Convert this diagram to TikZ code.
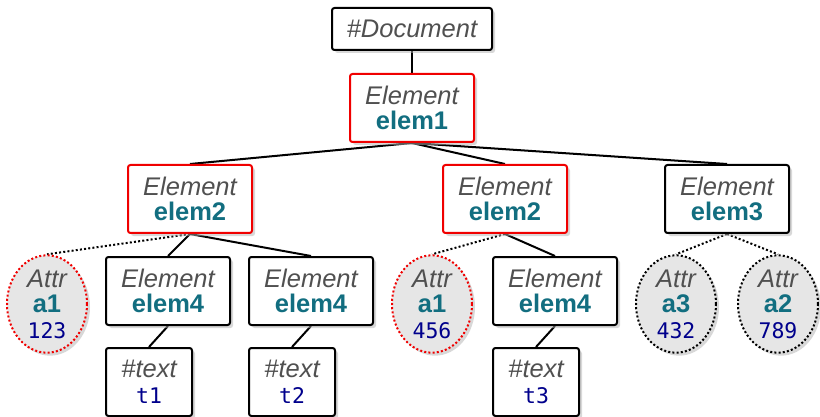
\documentclass[tikz,border=0pt]{standalone}
\usepackage{fontspec}
\setmainfont{Liberation Sans}
\newfontfamily\valfont{DejaVu Sans Mono}
\usetikzlibrary{shapes.geometric,shadows,backgrounds}
\definecolor{kindgray}{RGB}{80,80,80}
\definecolor{nameteal}{RGB}{18,110,128}
\definecolor{valnavy}{RGB}{0,0,140}
\definecolor{attrfill}{RGB}{230,230,230}
\definecolor{hired}{RGB}{240,0,0}
\newcommand{\kindtxt}[1]{\textcolor{kindgray}{\itshape #1}}
\newcommand{\nametxt}[1]{\textcolor{nameteal}{\bfseries #1}}
\newcommand{\valtxt}[1]{\textcolor{valnavy}{\valfont\fontsize{21.5}{25}\selectfont #1}}
\tikzset{
  base/.style={font=\fontsize{25.5}{25.5}\selectfont, align=center, inner sep=0pt,
    drop shadow={shadow xshift=3pt, shadow yshift=-3pt, fill=black!30}},
  elbox/.style={base, rectangle, draw=black, line width=2pt, rounded corners=2.5pt,
    fill=white, minimum width=124pt, minimum height=68pt},
  redbox/.style={elbox, draw=hired},
  txtbox/.style={elbox, minimum width=86pt},
  attr/.style={base, ellipse, draw=black, fill=attrfill, line width=2pt,
    dash pattern=on 2pt off 2.2pt, minimum width=80pt, minimum height=94pt},
  redattr/.style={attr, draw=hired},
  edge/.style={line width=2pt},
  dotedge/.style={line width=2pt, dash pattern=on 2pt off 2.2pt},
}
\begin{document}
\begin{tikzpicture}[x=1pt,y=-1pt]
\useasboundingbox (0,0) rectangle (820,417);
\node[elbox, minimum width=160pt, minimum height=42pt] (doc) at (412,29) {\kindtxt{\#Document}};
\node[redbox] (e1) at (412,108) {\kindtxt{Element}\\\nametxt{elem1}};
\node[redbox] (e2a) at (190,199) {\kindtxt{Element}\\\nametxt{elem2}};
\node[redbox] (e2b) at (505,199) {\kindtxt{Element}\\\nametxt{elem2}};
\node[elbox] (e3) at (727,199) {\kindtxt{Element}\\\nametxt{elem3}};
\node[redattr] (a1a) at (47,304) {\kindtxt{Attr}\\\nametxt{a1}\\\valtxt{123}};
\node[elbox] (e4a) at (168,291) {\kindtxt{Element}\\\nametxt{elem4}};
\node[elbox] (e4b) at (311,291) {\kindtxt{Element}\\\nametxt{elem4}};
\node[redattr] (a1b) at (432,304) {\kindtxt{Attr}\\\nametxt{a1}\\\valtxt{456}};
\node[elbox] (e4c) at (555,291) {\kindtxt{Element}\\\nametxt{elem4}};
\node[attr] (a3) at (676,304) {\kindtxt{Attr}\\\nametxt{a3}\\\valtxt{432}};
\node[attr] (a2) at (778,304) {\kindtxt{Attr}\\\nametxt{a2}\\\valtxt{789}};
\node[txtbox] (t1) at (149,382) {\kindtxt{\#text}\\\valtxt{t1}};
\node[txtbox] (t2) at (292,382) {\kindtxt{\#text}\\\valtxt{t2}};
\node[txtbox] (t3) at (536,382) {\kindtxt{\#text}\\\valtxt{t3}};
\begin{scope}[on background layer]
\draw[edge] (doc.south) -- (e1.north);
\draw[edge] (e1.south) -- (e2a.north);
\draw[edge] (e1.south) -- (e2b.north);
\draw[edge] (e1.south) -- (e3.north);
\draw[dotedge] (e2a.south) -- (a1a.north);
\draw[edge] (e2a.south) -- (e4a.north);
\draw[edge] (e2a.south) -- (e4b.north);
\draw[dotedge] (e2b.south) -- (a1b.north);
\draw[edge] (e2b.south) -- (e4c.north);
\draw[dotedge] (e3.south) -- (a3.north);
\draw[dotedge] (e3.south) -- (a2.north);
\draw[edge] (e4a.south) -- (t1.north);
\draw[edge] (e4b.south) -- (t2.north);
\draw[edge] (e4c.south) -- (t3.north);
\end{scope}
\end{tikzpicture}
\end{document}
